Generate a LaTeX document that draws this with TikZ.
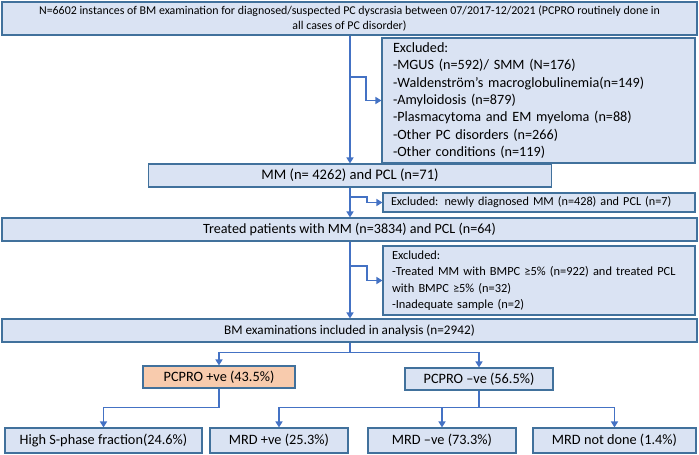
\documentclass[tikz,border=0pt]{standalone}
\usepackage{fontspec}
\setmainfont{Carlito}
\usetikzlibrary{arrows.meta,positioning}

\definecolor{boxfill}{HTML}{DAE3F3}
\definecolor{boxline}{HTML}{41719C}
\definecolor{linkline}{HTML}{4472C4}
\definecolor{posfill}{HTML}{F8CBAD}
\newcommand{\fsz}[2]{\fontsize{#1}{#2}\selectfont}

\begin{document}
\begin{tikzpicture}[x=1pt, y=-1pt, >={Triangle[length=6pt,width=7pt]},
    box/.style={draw=boxline, fill=boxfill, line width=1.1pt, inner sep=0pt, align=center,
                font=\fsz{14.3}{17}},
    exbox/.style={box, align=left, inner xsep=9pt},
    link/.style={draw=linkline, line width=1.5pt}]
    \useasboundingbox (0,0) rectangle (699,455);

    % Nodes {total, excl1, mm, excl2, treated, excl3, bm, pos, neg, etc}
    \node [box, font=\fsz{11.9}{15.5}, minimum width=695pt, minimum height=33pt] (total) at (349.5,18.5)
        {N=6602 instances of BM examination for diagnosed/suspected PC dyscrasia between 07/2017-12/2021 (PCPRO routinely done in\\all cases of PC disorder)};
    \node [exbox, font=\fsz{14.2}{17.4}, inner xsep=11pt, text width=291pt, minimum height=125pt] (excl1) at (538.5,100.5)
        {Excluded:\\-MGUS (n=592)/ SMM (N=176)\\-Waldenström’s macroglobulinemia(n=149)\\-Amyloidosis (n=879)\\-Plasmacytoma and EM myeloma (n=88)\\-Other PC disorders (n=266)\\-Other conditions (n=119)};
    \node [box, font=\fsz{14.6}{17}, minimum width=403pt, minimum height=23pt] (mm) at (350,175.5) {MM (n= 4262) and PCL (n=71)};
    \node [exbox, font=\fsz{12.2}{15}, inner xsep=8pt, text width=296pt, minimum height=19pt] (excl2) at (539,202.5)
        {Excluded: newly diagnosed MM (n=428) and PCL (n=7)};
    \node [box, font=\fsz{14.1}{17}, minimum width=695pt, minimum height=23pt] (treated) at (349.5,229.5)
        {Treated patients with MM (n=3834) and PCL (n=64)};
    \node [exbox, font=\fsz{12.4}{16.4}, text width=294pt, minimum height=69pt] (excl3) at (539,280.5)
        {Excluded:\\-Treated MM with BMPC ≥5\% (n=922) and treated PCL\\with BMPC ≥5\% (n=32)\\-Inadequate sample (n=2)};
    \node [box, font=\fsz{13.2}{16}, minimum width=695pt, minimum height=23pt] (bm) at (349.5,330.5)
        {BM examinations included in analysis (n=2942)};
    \node [box, fill=posfill, minimum width=152pt, minimum height=22pt] (pos) at (219,377) {PCPRO +ve (43.5\%)};
    \node [box, minimum width=148pt, minimum height=22pt]  (neg)     at (479,379)       {PCPRO –ve (56.5\%)};
    \node [box, minimum width=197pt, minimum height=25pt]  (sphase)  at (103.5,440.5)   {High S-phase fraction(24.6\%)};
    \node [box, minimum width=138pt, minimum height=25pt]  (mrdpos)  at (279,440.5)     {MRD +ve (25.3\%)};
    \node [box, minimum width=148pt, minimum height=25pt]  (mrdneg)  at (442,440.5)     {MRD –ve (73.3\%)};
    \node [box, minimum width=163pt, minimum height=25pt]  (mrdnone) at (614.5,440.5)   {MRD not done (1.4\%)};

    % Paths
    \coordinate (k1) at (350,77);
    \coordinate (k2) at (350,197);
    \coordinate (k3) at (350,266);
    \draw [link, ->] (total.south -| mm.north) -- (mm.north);
    \draw [link, ->] (k1) -- ++(16,0) |- (excl1.west);
    \draw [link, ->] (mm.south) -- (mm.south |- treated.north);
    \draw [link, ->] (k2) -- ++(17,0) |- (excl2.west);
    \draw [link, ->] (treated.south -| mm.south) -- (bm.north -| mm.south);
    \draw [link, ->] (k3) -- ++(17,0) |- (excl3.west);
    \draw [link] (bm.south -| mm.south) -- ++(0,10) coordinate (k4);
    \draw [link, ->] (k4) -| (pos.north);
    \draw [link, ->] (k4) -| (neg.north);
    \draw [link, ->] (pos.south) -- ++(0,19) -| (sphase.north);
    \draw [link] (neg.south) -- ++(0,17) coordinate (k5);
    \draw [link, ->] (k5) -| (mrdpos.north);
    \draw [link, ->] (k5) -- (k5 -| mrdneg.north) -- (mrdneg.north);
    \draw [link, ->] (k5) -| (mrdnone.north);

\end{tikzpicture}
\end{document}
